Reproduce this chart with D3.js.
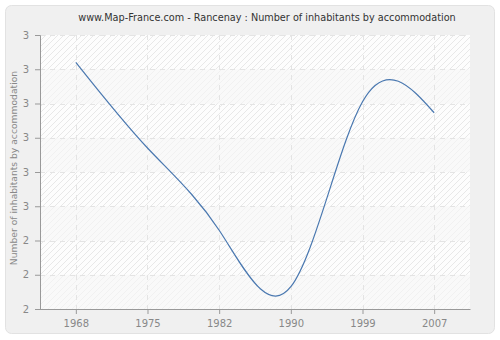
<!DOCTYPE html>
<html>
<head>
<meta charset="utf-8">
<script src="https://cdn.jsdelivr.net/npm/d3@7"></script>
<style>
  body { margin: 0; background: #fff; }
  text { font-family: "DejaVu Sans", sans-serif; }
</style>
</head>
<body>
<script>
var years = ["1968", "1975", "1982", "1990", "1999", "2007"];
var values = [2.92, 2.67, 2.43, 2.265, 2.805, 2.773];
var yTicks = [2.2, 2.3, 2.4, 2.5, 2.6, 2.7, 2.8, 2.9, 3.0];

var W = 500, H = 340;
var margin = {top: 35, right: 30, bottom: 31, left: 40},
    width = W - margin.left - margin.right,
    height = H - margin.top - margin.bottom;

var svg = d3.select("body").append("svg")
    .attr("width", W)
    .attr("height", H);

var defs = svg.append("defs");
var pat = defs.append("pattern")
    .attr("id", "hatch")
    .attr("patternUnits", "userSpaceOnUse")
    .attr("width", 6).attr("height", 6);
pat.append("rect").attr("width", 6).attr("height", 6).attr("fill", "#fdfdfd");
pat.append("path")
    .attr("d", "M-1,1 l2,-2 M0,6 l6,-6 M5,7 l2,-2")
    .attr("stroke", "#e8e8e8")
    .attr("stroke-width", 1);

// outer panel
svg.append("rect")
    .attr("x", 5.5).attr("y", 5.5)
    .attr("width", 489).attr("height", 328)
    .attr("rx", 6)
    .attr("fill", "#f0f0f0")
    .attr("stroke", "#e2e2e2");

var g = svg.append("g")
    .attr("transform", "translate(" + margin.left + "," + margin.top + ")");

var x = d3.scalePoint().domain(years).range([0, width]).padding(0.5);
var y = d3.scaleLinear().domain([2.2, 3.0]).range([height, 0]);

// plot background
g.append("rect")
    .attr("width", width).attr("height", height)
    .attr("fill", "url(#hatch)");

// alternate bands
for (var i = 0; i < yTicks.length - 1; i++) {
  if (i % 2 == 0) {
    g.append("rect")
      .attr("x", 0).attr("y", y(yTicks[i + 1]))
      .attr("width", width)
      .attr("height", y(yTicks[i]) - y(yTicks[i + 1]))
      .attr("fill", "#f7f7f7")
      .attr("fill-opacity", 0.6);
  }
}

// grid
g.selectAll(".hgrid").data(yTicks.slice(1)).enter().append("line")
    .attr("x1", 0).attr("x2", width)
    .attr("y1", function(d) { return Math.round(y(d)) + 0.5; })
    .attr("y2", function(d) { return Math.round(y(d)) + 0.5; })
    .attr("stroke", "#e4e4e4")
    .attr("stroke-dasharray", "5,5");

g.selectAll(".vgrid").data(years).enter().append("line")
    .attr("x1", function(d) { return Math.round(x(d)) + 0.5; })
    .attr("x2", function(d) { return Math.round(x(d)) + 0.5; })
    .attr("y1", 0).attr("y2", height)
    .attr("stroke", "#e4e4e4")
    .attr("stroke-dasharray", "5,5");

// line
var line = d3.line()
    .x(function(d, i) { return x(years[i]); })
    .y(function(d) { return y(d); })
    .curve(d3.curveNatural);

g.append("path")
    .attr("d", line(values))
    .attr("fill", "none")
    .attr("stroke", "#4a78b0")
    .attr("stroke-width", 1.2);

// axes
var xAxis = g.append("g")
    .attr("transform", "translate(0," + height + ")")
    .call(d3.axisBottom(x).tickSizeOuter(0).tickSize(5).tickPadding(6));
var yAxis = g.append("g")
    .call(d3.axisLeft(y).tickValues(yTicks).tickFormat(d3.format(".0f")).tickSizeOuter(0).tickSize(5).tickPadding(6));

[xAxis, yAxis].forEach(function(a) {
  a.select(".domain").attr("stroke", "#999");
  a.selectAll(".tick line").attr("stroke", "#999");
  a.selectAll(".tick text")
    .attr("fill", "#888")
    .style("font-family", "DejaVu Sans, sans-serif")
    .style("font-size", "10px");
});
xAxis.select(".domain").attr("d", "M-0.5,0.5H" + (width + 0.5));

svg.append("text")
    .attr("x", 267).attr("y", 21)
    .attr("text-anchor", "middle")
    .attr("fill", "#333")
    .style("font-size", "9.7px")
    .text("www.Map-France.com - Rancenay : Number of inhabitants by accommodation");

svg.append("text")
    .attr("transform", "rotate(-90)")
    .attr("x", -(margin.top + 133))
    .attr("y", 17)
    .attr("text-anchor", "middle")
    .attr("fill", "#888")
    .style("font-size", "9.2px")
    .text("Number of inhabitants by accommodation");
</script>
</body>
</html>
